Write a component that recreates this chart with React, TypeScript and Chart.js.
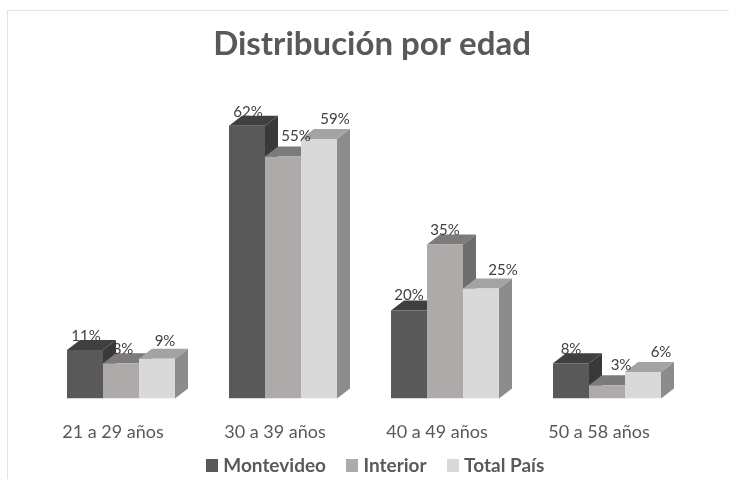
import React, { useEffect, useRef } from "react";
import { Chart, registerables } from "chart.js";

Chart.register(...registerables);

const categories = ["21 a 29 años", "30 a 39 años", "40 a 49 años", "50 a 58 años"];
const montevideo = [11, 62, 20, 8];
const interior = [8, 55, 35, 3];
const totalPais = [9, 59, 25, 6];

const FONT = "Lato, 'Open Sans', sans-serif";
const DEPTH_X = 13;
const DEPTH_Y = 10;
const faces = [
  { front: "#595959", top: "#3f3f3f", side: "#393939" },
  { front: "#aeaaaa", top: "#7d7a7a", side: "#6f6c6c" },
  { front: "#d9d9d9", top: "#a3a3a3", side: "#8c8c8c" },
];
// Label offsets from the bar's top centre, per series and category.
const labelOffsets = [
  [[1, -14], [1, -14], [0, -15], [0, -14]],
  [[2, -14], [13, -20], [0, -14], [14, -20]],
  [[8, -18], [16, -20], [22, -18], [18, -20]],
];
const AXIS_OVERLAP = 26;

function swatch(color: string) {
  const c = document.createElement("canvas");
  c.width = 12;
  c.height = 13;
  const g = c.getContext("2d") as CanvasRenderingContext2D;
  g.fillStyle = color;
  g.fillRect(0, 0, 12, 13);
  return c;
}

const bars3d = {
  id: "bars3d",
  afterLayout(chart: any) {
    [chart.titleBlock, chart.legend].forEach((b: any, i: number) => {
      const shift = i === 0 ? 8 : 13;
      b.left += shift;
      b.right += shift;
    });
    chart.scales.x.bottom += AXIS_OVERLAP;
  },
  beforeDatasetsDraw(chart: any) {
    const ctx = chart.ctx;
    chart.data.datasets.forEach((_: any, d: number) => {
      chart.getDatasetMeta(d).data.forEach((bar: any) => {
        const p = bar.getProps(["x", "y", "base", "width"], true);
        const l = p.x - p.width / 2;
        const r = p.x + p.width / 2;
        ctx.fillStyle = faces[d].side;
        ctx.beginPath();
        ctx.moveTo(r, p.y);
        ctx.lineTo(r + DEPTH_X, p.y - DEPTH_Y);
        ctx.lineTo(r + DEPTH_X, p.base - DEPTH_Y);
        ctx.lineTo(r, p.base);
        ctx.closePath();
        ctx.fill();
        ctx.fillStyle = faces[d].top;
        ctx.beginPath();
        ctx.moveTo(l, p.y);
        ctx.lineTo(l + DEPTH_X, p.y - DEPTH_Y);
        ctx.lineTo(r + DEPTH_X, p.y - DEPTH_Y);
        ctx.lineTo(r, p.y);
        ctx.closePath();
        ctx.fill();
      });
    });
  },
  afterDatasetsDraw(chart: any) {
    const ctx = chart.ctx;
    ctx.save();
    ctx.font = `15px ${FONT}`;
    ctx.fillStyle = "#404040";
    ctx.textAlign = "center";
    ctx.textBaseline = "middle";
    chart.data.datasets.forEach((ds: any, d: number) => {
      chart.getDatasetMeta(d).data.forEach((bar: any, i: number) => {
        const [dx, dy] = labelOffsets[d][i];
        ctx.fillText(`${ds.data[i]}%`, bar.x + dx, bar.y + dy);
      });
    });
    ctx.restore();
  },
};

export default function App() {
  const ref = useRef<HTMLCanvasElement>(null);
  useEffect(() => {
    const swatches = faces.map((f) => swatch(f.front));
    const chart = new Chart(ref.current as HTMLCanvasElement, {
      type: "bar",
      data: {
        labels: categories,
        datasets: [
          { label: "Montevideo", data: montevideo, backgroundColor: faces[0].front },
          { label: "Interior", data: interior, backgroundColor: faces[1].front },
          { label: "Total País", data: totalPais, backgroundColor: faces[2].front },
        ],
      },
      options: {
        responsive: false,
        animation: false,
        layout: { padding: { left: 40, right: 41, top: 25, bottom: -6 } },
        datasets: { bar: { categoryPercentage: 0.6667, barPercentage: 1 } },
        scales: {
          x: {
            grid: { display: false },
            border: { display: false },
            afterFit(scale: any) {
              scale.height -= AXIS_OVERLAP;
            },
            ticks: {
              color: "#595959",
              font: { family: FONT, size: 18 },
              labelOffset: -8,
              padding: 15,
              maxRotation: 0,
            },
          },
          y: { display: false, min: 0, max: 70 },
        },
        plugins: {
          title: {
            display: true,
            text: "Distribución por edad",
            color: "#595959",
            font: { family: FONT, size: 33, weight: "bold" },
            padding: { top: 0, bottom: 26 },
          },
          legend: {
            position: "bottom",
            labels: {
              color: "#595959",
              font: { family: FONT, size: 19, weight: "bold" },
              usePointStyle: true,
              boxWidth: 4,
              boxHeight: 12,
              padding: 24,
              generateLabels: (c: any) =>
                (Chart.defaults.plugins.legend.labels as any)
                  .generateLabels(c)
                  .map((l: any, i: number) => ({ ...l, pointStyle: swatches[i] })),
            },
          },
          tooltip: { enabled: false },
        },
      },
      plugins: [bars3d],
    } as any);
    return () => chart.destroy();
  }, []);
  return (
    <div style={{ position: "fixed", left: 0, top: 0, width: 729, height: 479, background: "#fff" }}>
      <div
        style={{
          position: "absolute",
          left: 7,
          top: 10,
          right: 0,
          bottom: 0,
          borderLeft: "1px solid #e3e3e3",
          borderTop: "1px solid #e3e3e3",
        }}
      />
      <canvas ref={ref} width={729} height={479} style={{ position: "absolute", left: 0, top: 0 }} />
    </div>
  );
}
